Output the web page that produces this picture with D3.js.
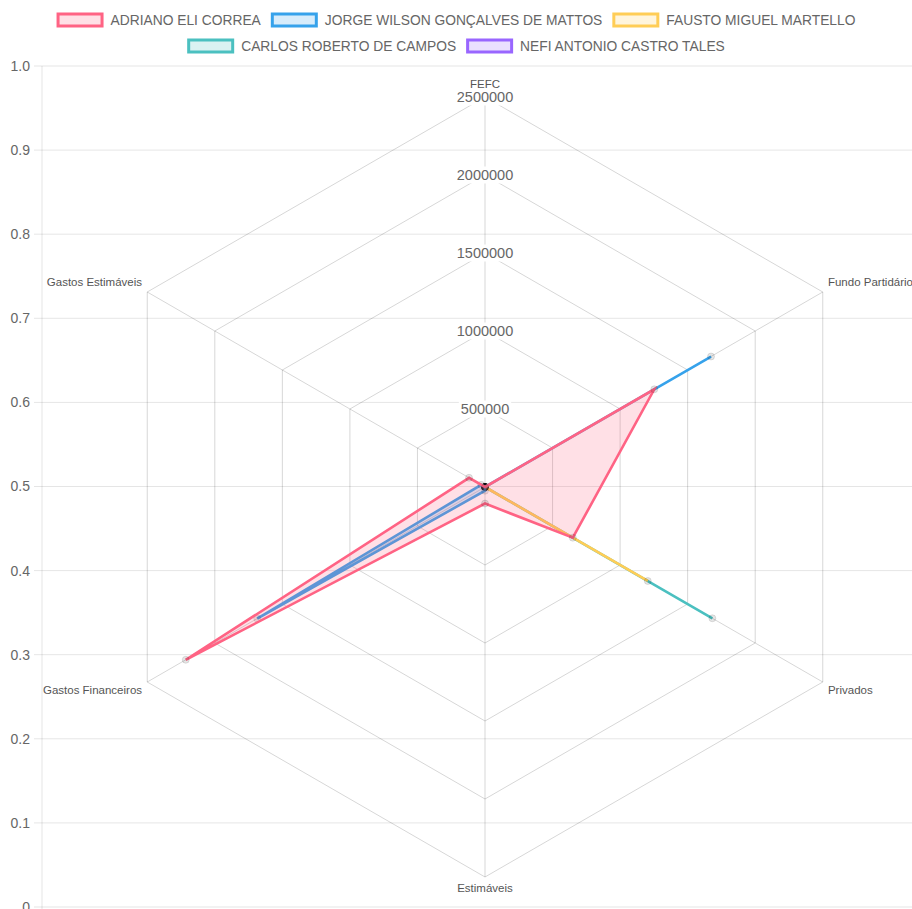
<!DOCTYPE html>
<html>
<head>
<meta charset="utf-8">
<script src="https://cdn.jsdelivr.net/npm/d3@7/dist/d3.min.js"></script>
<style>
  html, body { margin: 0; padding: 0; background: #fff; }
  svg { display: block; font-family: "Liberation Sans", Arial, Helvetica, sans-serif; }
</style>
</head>
<body>
<svg id="chart" width="912" height="909"></svg>
<script>
// Radar axes (clockwise from the top)
const axes = ["FEFC", "Fundo Partidário", "Privados", "Estimáveis", "Gastos Financeiros", "Gastos Estimáveis"];

// Candidate names and their amounts on each axis
const candidates = ["ADRIANO ELI CORREA", "JORGE WILSON GONÇALVES DE MATTOS", "FAUSTO MIGUEL MARTELLO", "CARLOS ROBERTO DE CAMPOS", "NEFI ANTONIO CASTRO TALES"];
const adriano = [0, 1253000, 650000, 106000, 2215000, 118000];
const jorge   = [0, 1673000, 0, 24000, 1686000, 28000];
const fausto  = [0, 0, 1205000, 0, 0, 0];
const carlos  = [0, 0, 1683000, 0, 0, 0];
const nefi    = [0, 0, 0, 0, 0, 0];
const seriesValues = [adriano, jorge, fausto, carlos, nefi];
const seriesColors = ["255,99,132", "54,162,235", "255,205,86", "75,192,192", "153,102,255"];

// Radial tick values and the left linear axis ticks
const radialTicks = [500000, 1000000, 1500000, 2000000, 2500000];
const linearTicks = [0, 0.1, 0.2, 0.3, 0.4, 0.5, 0.6, 0.7, 0.8, 0.9, 1.0];

const svg = d3.select("#chart");
const W = 912;

// ---------- left linear axis with horizontal grid ----------
const axisX = 42;
const y = d3.scaleLinear().domain([0, 1]).range([907, 66]);
const gridG = svg.append("g");
gridG.selectAll("line.h").data(linearTicks).join("line")
  .attr("x1", axisX - 8).attr("x2", W)
  .attr("y1", d => y(d)).attr("y2", d => y(d))
  .attr("stroke", "rgba(0,0,0,0.1)").attr("stroke-width", 1);
gridG.append("line")
  .attr("x1", axisX).attr("x2", axisX)
  .attr("y1", y(1)).attr("y2", 909)
  .attr("stroke", "rgba(0,0,0,0.1)").attr("stroke-width", 1);
gridG.selectAll("text").data(linearTicks).join("text")
  .attr("x", axisX - 12).attr("y", d => y(d))
  .attr("dy", "0.35em")
  .attr("text-anchor", "end")
  .attr("font-size", 14).attr("fill", "#666")
  .text(d => d === 0 ? "0" : d3.format(".1f")(d));

// ---------- radar ----------
const cx = 485, cy = 487, R = 390;
const r = d3.scaleLinear().domain([0, 2500000]).range([0, R]);
const n = axes.length;
const angle = i => i * 2 * Math.PI / n - Math.PI / 2;
const pt = (i, v) => [cx + r(v) * Math.cos(angle(i)), cy + r(v) * Math.sin(angle(i))];

const radarG = svg.append("g");
// concentric hexagons
radarG.selectAll("path.ring").data(radialTicks).join("path")
  .attr("d", v => d3.line()(d3.range(n).map(i => pt(i, v))) + "Z")
  .attr("fill", "none").attr("stroke", "rgba(0,0,0,0.16)").attr("stroke-width", 1);
// angle lines
radarG.selectAll("line.spoke").data(d3.range(n)).join("line")
  .attr("x1", cx).attr("y1", cy)
  .attr("x2", i => pt(i, 2500000)[0]).attr("y2", i => pt(i, 2500000)[1])
  .attr("stroke", "rgba(0,0,0,0.16)").attr("stroke-width", 1);

// radial tick labels with white backdrop
const tickG = svg.append("g");
radialTicks.forEach(v => {
  const g = tickG.append("g").attr("transform", `translate(${cx},${cy - r(v)})`);
  const rect = g.append("rect").attr("fill", "#fff");
  const t = g.append("text")
    .attr("text-anchor", "middle").attr("dy", "0.35em")
    .attr("font-size", 14.5).attr("fill", "#666")
    .text(v);
  const w = t.node().getComputedTextLength();
  rect.attr("x", -w / 2 - 2).attr("y", -8.5).attr("width", w + 4).attr("height", 17);
});

// axis labels around the outside
const labelFont = 11.5;
svg.append("g").selectAll("text.axis").data(axes).join("text")
  .each(function (d, i) {
    const a = angle(i);
    const lx = cx + (R + 6) * Math.cos(a);
    const ly = cy + (R + 6) * Math.sin(a);
    const c = Math.cos(a), s = Math.sin(a);
    const anchor = Math.abs(c) < 0.01 ? "middle" : (c > 0 ? "start" : "end");
    let yy = ly;
    if (s < -0.01) yy = ly - labelFont * 0.3;          // above the point
    else if (s > 0.01) yy = ly + labelFont * 0.75;     // below the point
    d3.select(this)
      .attr("x", lx).attr("y", yy)
      .attr("text-anchor", anchor)
      .attr("font-size", labelFont).attr("fill", "#555")
      .text(d);
  });

// datasets: last one drawn first, so the first sits on top
const dataG = svg.append("g");
d3.range(seriesValues.length).reverse().forEach(k => {
  const vals = seriesValues[k];
  const col = seriesColors[k];
  const pts = vals.map((v, i) => pt(i, v));
  const g = dataG.append("g");
  g.append("path")
    .attr("d", d3.line()(pts) + "Z")
    .attr("fill", `rgba(${col},0.2)`)
    .attr("stroke", `rgb(${col})`)
    .attr("stroke-width", 2.6)
    .attr("stroke-linejoin", "miter");
  g.selectAll("circle").data(pts).join("circle")
    .attr("cx", d => d[0]).attr("cy", d => d[1]).attr("r", 3.5)
    .attr("fill", "rgba(0,0,0,0.1)")
    .attr("stroke", "rgba(0,0,0,0.1)").attr("stroke-width", 1);
});

// ---------- legend ----------
const legendG = svg.append("g");
const boxW = 47, boxH = 15, textGap = 7, itemGap = 10, rowH = 26, maxRow = 870;
const fontSize = 13.8;
const measure = legendG.append("text").attr("font-size", fontSize);
const widths = candidates.map(c => { measure.text(c); return measure.node().getComputedTextLength(); });
measure.remove();
const rows = [];
let cur = [], curW = 0;
candidates.forEach((c, i) => {
  const w = boxW + textGap + widths[i];
  const add = cur.length ? itemGap + w : w;
  if (cur.length && curW + add > maxRow) { rows.push({ items: cur, width: curW }); cur = [i]; curW = w; }
  else { cur.push(i); curW += add; }
});
rows.push({ items: cur, width: curW });
rows.forEach((row, ri) => {
  let x = (W - row.width) / 2;
  const yc = 20 + ri * rowH;
  row.items.forEach(i => {
    const col = seriesColors[i];
    legendG.append("rect")
      .attr("x", x + 1.5).attr("y", yc - boxH / 2 + 1.5)
      .attr("width", boxW - 3).attr("height", boxH - 3)
      .attr("fill", `rgba(${col},0.2)`)
      .attr("stroke", `rgb(${col})`).attr("stroke-width", 3);
    legendG.append("text")
      .attr("x", x + boxW + textGap).attr("y", yc).attr("dy", "0.35em")
      .attr("font-size", fontSize).attr("fill", "#666")
      .text(candidates[i]);
    x += boxW + textGap + widths[i] + itemGap;
  });
});
</script>
</body>
</html>
